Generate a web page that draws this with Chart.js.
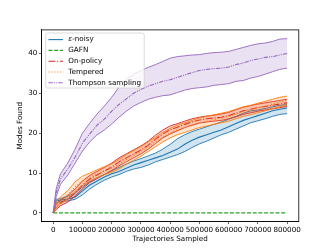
<!DOCTYPE html>
<html>
<head>
<meta charset="utf-8">
<script src="https://cdn.jsdelivr.net/npm/chart.js@4.4.1/dist/chart.umd.min.js"></script>
<style>
  html,body{margin:0;padding:0;background:#fff;}
  canvas{display:block;}
</style>
</head>
<body>
<canvas id="c" width="332" height="249"></canvas>
<script>
// sampled trajectories (x)
const steps=[0,10000,25000,50000,75000,100000,125000,150000,175000,200000,225000,250000,275000,300000,325000,350000,375000,400000,425000,450000,475000,500000,525000,550000,575000,600000,625000,650000,675000,700000,725000,750000,775000,800000];
const xTicks=[0,100000,200000,300000,400000,500000,600000,700000,800000];
const yTicks=[0,10,20,30,40];

// eps-noisy
const noisyMean=[0,3,3.2,3.5,4,5.5,7,8,9,9.8,10.4,11.2,12,12.6,13.2,13.8,14.4,15.2,16,17.2,18.2,19,19.6,20.2,20.8,21.6,22.4,23.2,23.8,24.4,25,25.6,26,26.3];
const noisyHi=[0,3.4,3.6,4.2,5,6.5,7.8,8.8,9.6,10.6,11.4,12.2,13,13.6,14.3,15,16,17.2,18.6,19.6,20.4,21,21.6,22.2,22.8,23.5,24.2,25,25.6,25.8,26.2,26.6,27,27.2];
const noisyLo=[0,2.4,2.8,3,3.4,4.5,6,7.2,8.2,9,9.6,10.4,11,11.4,12,12.8,13.4,14,14.6,15.4,16.4,17.3,18,18.8,19.6,20.2,21,21.8,22.6,23.1,23.6,24.2,24.7,24.9];
// GAFN
const gafnMean=[0,0,0,0,0,0,0,0,0,0,0,0,0,0,0,0,0,0,0,0,0,0,0,0,0,0,0,0,0,0,0,0,0,0];
// on-policy
const onMean=[0,1.5,2.5,3.5,5,7,8.5,9.5,10.5,11.5,12.8,13.8,14.8,15.8,17,18.5,19.8,20.8,21.5,22.2,22.8,23.3,23.6,23.8,24,24.4,25,25.6,26,26.4,26.7,27,27.3,27.6];
const onHi=[0,2.2,3.2,4.4,6,8,9.4,10.4,11.4,12.5,13.8,14.8,15.8,16.8,18,19.5,20.8,21.8,22.4,23,23.6,24,24.3,24.5,24.8,25.2,25.9,26.5,26.9,27.3,27.6,27.9,28.2,28.5];
const onLo=[0,0.8,1.8,2.7,4.2,6,7.6,8.6,9.6,10.6,11.8,12.8,13.8,14.8,16,17.4,18.8,19.8,20.6,21.4,22,22.5,22.8,23,23.2,23.6,24.1,24.7,25.1,25.5,25.8,26.1,26.4,26.7];
// tempered
const tempMean=[0,2,3,4.5,6.5,8,9,9.8,10.6,11.2,12.2,13.4,14.4,15.4,16.6,17.8,19,20,20.8,21.4,22,22.6,23,23.4,23.8,24.2,24.8,25.4,25.8,26.3,26.8,27.3,27.8,28.2];
const tempHi=[0,2.8,4,5.6,7.8,9.2,10,10.8,11.6,12.3,13.4,14.6,15.6,16.6,17.8,19,20.2,21.2,22,22.6,23.2,23.8,24.2,24.6,25,25.4,26,26.6,27,27.5,28,28.5,29,29.3];
const tempLo=[0,1.3,2.2,3.5,5.4,6.8,8,8.8,9.6,10.2,11,12.2,13.2,14.2,15.4,16.6,17.8,18.8,19.6,20.2,20.8,21.4,21.8,22.2,22.6,23,23.6,24.2,24.6,25.1,25.6,26.1,26.6,27.1];
// thompson sampling
const thomMean=[0,5,8.5,11,14,17.5,19.8,22,23.5,25.5,27.2,28.6,30,31,31.8,32.4,33,33.4,34,34.6,35.2,35.7,36,36.2,36.3,36.6,37.2,37.6,38.2,38.6,39,39.2,39.6,40];
const thomHi=[0,6,9.8,12.5,16,20,22.5,24.8,26.8,29,31.5,33.5,34.8,35.7,36.5,37.2,38,38.8,39.2,39.4,39.6,39.7,40,40.2,40.3,40.5,41,41.5,42,42.4,42.6,43,43.6,43.7];
const thomLo=[0,4,7.2,9.5,12.5,15.5,17.8,19.6,20.8,22.3,24,25.5,26.8,27.7,28.5,29,29.4,29.6,30.2,30.8,31.2,31.4,31.6,32,32.2,32.4,33,33.2,33.8,34.2,34.8,35.4,36,36.3];

const series=[
  {label:'ε-noisy',color:'#1f77b4',fill:'rgba(31,119,180,0.2)',dash:[],mean:noisyMean,hi:noisyHi,lo:noisyLo},
  {label:'GAFN',color:'#2ca02c',fill:'rgba(44,160,44,0.2)',dash:[4,1.7],mean:gafnMean},
  {label:'On-policy',color:'#d62728',fill:'rgba(214,39,40,0.2)',dash:[6.9,1.7,1.1,1.7],mean:onMean,hi:onHi,lo:onLo},
  {label:'Tempered',color:'#ff7f0e',fill:'rgba(255,127,14,0.2)',dash:[1.1,1.8],mean:tempMean,hi:tempHi,lo:tempLo},
  {label:'Thompson sampling',color:'#9467bd',fill:'rgba(148,103,189,0.2)',dash:[4.3,1.1,1.1,1.1,1.1,1.1],mean:thomMean,hi:thomHi,lo:thomLo}
];

const pts=arr=>arr.map((v,i)=>({x:steps[i],y:v}));
const datasets=[];
series.forEach((s,k)=>{
  const ord=(series.length-k)*10;
  if(s.hi){
    datasets.push({data:pts(s.hi),borderColor:s.color,borderWidth:0.9,pointRadius:0,fill:'+1',backgroundColor:s.fill,order:ord+2});
    datasets.push({data:pts(s.lo),borderColor:s.color,borderWidth:0.9,pointRadius:0,fill:false,order:ord+1});
  }
  datasets.push({label:s.label,data:pts(s.mean),borderColor:s.color,borderWidth:1.1,borderDash:s.dash,pointRadius:0,fill:false,order:ord});
});

const F='"DejaVu Sans", sans-serif';
const frameLegend={
  id:'frameLegend',
  afterDraw(chart){
    const ctx=chart.ctx, a=chart.chartArea;
    ctx.save();
    ctx.strokeStyle='#000';ctx.lineWidth=0.8;
    ctx.strokeRect(a.left,a.top,a.right-a.left,a.bottom-a.top);
    // legend box
    const lx=45.7, ly=33, lw=98.5, lh=55;
    ctx.beginPath();
    ctx.roundRect(lx,ly,lw,lh,2);
    ctx.fillStyle='rgba(255,255,255,0.8)';ctx.fill();
    ctx.strokeStyle='#cccccc';ctx.lineWidth=0.7;ctx.stroke();
    ctx.font='7.2px '+F;ctx.textBaseline='middle';ctx.fillStyle='#000';
    series.forEach((s,i)=>{
      const y=39.6+i*10.8;
      ctx.beginPath();ctx.setLineDash(s.dash);ctx.strokeStyle=s.color;ctx.lineWidth=1.1;
      ctx.moveTo(48.5,y);ctx.lineTo(63,y);ctx.stroke();ctx.setLineDash([]);
      if(i===0){
        ctx.font='italic 7.2px '+F;ctx.fillText('ε',68.3,y);
        const w=ctx.measureText('ε').width;
        ctx.font='7.2px '+F;ctx.fillText('-noisy',68.3+w,y);
      }else{
        ctx.fillText(s.label,68.3,y);
      }
    });
    ctx.restore();
  }
};

new Chart(document.getElementById('c'),{
  type:'line',
  data:{datasets},
  options:{
    responsive:false,animation:false,devicePixelRatio:1,
    layout:{padding:{left:0,top:29.9,right:33.2,bottom:0}},
    plugins:{legend:{display:false},tooltip:{enabled:false}},
    elements:{line:{tension:0}},
    scales:{
      x:{type:'linear',min:-40000,max:840000,
        afterBuildTicks:s=>{s.ticks=xTicks.map(v=>({value:v}));},
        afterFit:s=>{s.height=249-221.6;},
        grid:{drawOnChartArea:false,drawTicks:true,tickLength:2.5,tickColor:'#000',tickWidth:0.6},
        border:{display:true,color:'#000',width:0.8},
        ticks:{padding:1.6,color:'#000',font:{family:F,size:7.2},maxRotation:0,autoSkip:false,callback:v=>String(v)},
        title:{display:true,text:'Trajectories Sampled',color:'#000',font:{family:F,size:7.2},padding:{top:0,bottom:5.5}}
      },
      y:{type:'linear',min:-2.19,max:45.9,
        afterBuildTicks:s=>{s.ticks=yTicks.map(v=>({value:v}));},
        afterFit:s=>{s.width=41.5;},
        grid:{drawOnChartArea:false,drawTicks:true,tickLength:2.5,tickColor:'#000',tickWidth:0.6},
        border:{display:true,color:'#000',width:0.8},
        ticks:{padding:1.6,color:'#000',font:{family:F,size:7.2},autoSkip:false,callback:v=>String(v)},
        title:{display:true,text:'Modes Found',color:'#000',font:{family:F,size:7.2},padding:{top:15.5,bottom:0}}
      }
    }
  },
  plugins:[frameLegend]
});
</script>
</body>
</html>
